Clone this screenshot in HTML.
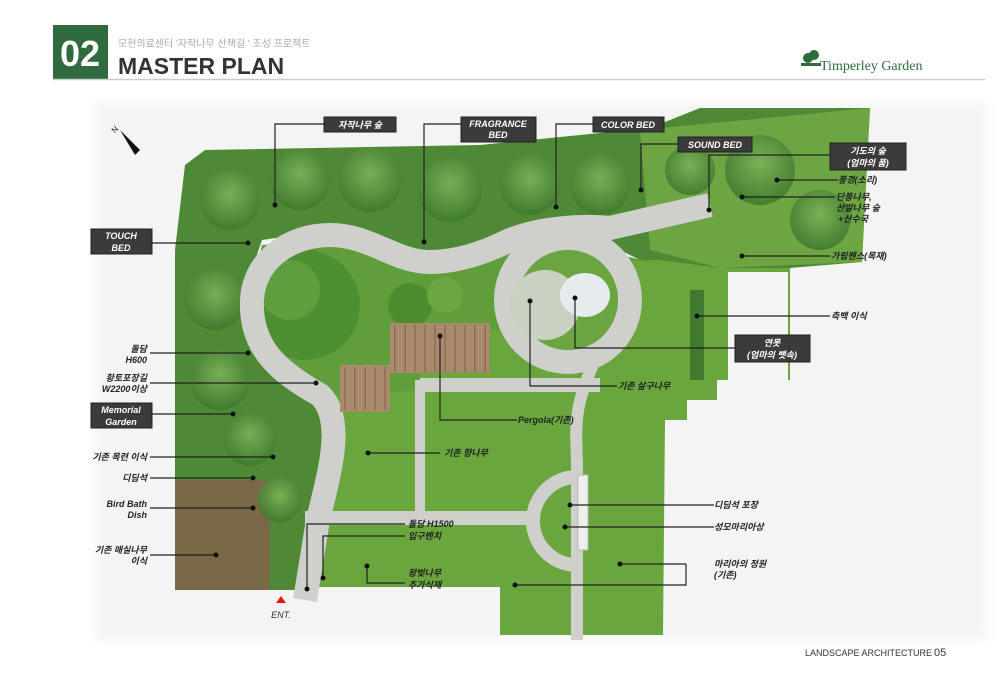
<!DOCTYPE html>
<html><head><meta charset="utf-8"><style>
html,body{margin:0;padding:0;background:#fff;}
body{width:1000px;height:680px;overflow:hidden;position:relative;font-family:"Liberation Sans","Noto Sans CJK KR",sans-serif;}
svg{position:absolute;left:0;top:0}
.lb{font-family:"Liberation Sans","Noto Sans CJK KR",sans-serif;font-size:9px;font-style:italic;font-weight:bold;fill:#222}
.bx{fill:#3b3b3b;stroke:#222;stroke-width:1}
.bt{font-family:"Liberation Sans","Noto Sans CJK KR",sans-serif;font-size:9px;font-style:italic;font-weight:bold;fill:#fff}
.ld{fill:none;stroke:#222;stroke-width:1.2}
</style></head><body>
<svg width="1000" height="680" viewBox="0 0 1000 680">
<defs>
<filter id="bl"><feGaussianBlur stdDeviation="6"/></filter>
<radialGradient id="tr" cx="50%" cy="40%" r="60%"><stop offset="0" stop-color="#7cb35a"/><stop offset="1" stop-color="#3f7a2e"/></radialGradient>
</defs>
<rect x="53" y="25" width="55" height="54" fill="#2f6b3e"/>
<text x="80" y="66" text-anchor="middle" font-size="36" font-weight="bold" fill="#fff" font-family="Liberation Sans,sans-serif">02</text>
<text x="118" y="47" font-size="10" fill="#aaa" font-family="Liberation Sans,Noto Sans CJK KR,sans-serif">모현의료센터 '자작나무 산책길 ' 조성 프로젝트</text>
<text x="118" y="74" font-size="23" font-weight="bold" fill="#333" font-family="Liberation Sans,sans-serif">MASTER PLAN</text>
<line x1="53" y1="79.5" x2="985" y2="79.5" stroke="#ccc" stroke-width="1.5"/>
<g fill="#2f6b3e"><circle cx="808" cy="58" r="5"/><circle cx="814" cy="55" r="5"/><rect x="801" y="63" width="20" height="3"/></g>
<text x="820" y="70" font-size="14" fill="#2f6b3e" font-family="Liberation Serif,serif">Timperley Garden</text>
<rect x="95" y="102" width="892" height="538" fill="#f3f4f3" filter="url(#bl)"/>
<path d="M185 165 L205 150 L480 145 L650 128 L700 108 L870 108 L862 262 L790 268 L700 272 L650 265 L620 250 L580 242 L470 252 L400 250 L330 230 L262 240 L245 290 L260 350 L300 385 L335 410 L335 470 L325 520 L315 590 L175 590 L175 250 Z" fill="#4e8a35"/>
<path d="M640 130 L870 108 L862 262 L720 268 L650 250 Z" fill="#7bb04a" opacity="0.7"/>
<rect x="175" y="480" width="95" height="110" fill="#8a5d4e" opacity="0.75"/>
<g fill="url(#tr)" opacity="0.9">
<circle cx="230" cy="200" r="30"/><circle cx="300" cy="180" r="30"/><circle cx="370" cy="180" r="32"/><circle cx="450" cy="190" r="32"/><circle cx="530" cy="185" r="30"/><circle cx="600" cy="185" r="30"/><circle cx="215" cy="300" r="30"/><circle cx="220" cy="380" r="30"/><circle cx="250" cy="440" r="26"/><circle cx="280" cy="500" r="22"/><circle cx="760" cy="170" r="35"/><circle cx="820" cy="220" r="30"/><circle cx="690" cy="170" r="25"/>
</g>
<path d="M262 245 L330 240 L400 258 L470 258 L580 245 L650 262 L700 270 L700 400 L420 398 L330 405 L300 385 L260 350 L250 290 Z" fill="#5f9e3a"/>
<path d="M330 395 L420 390 L420 330 L505 330 L520 255 L610 262 L660 260 L720 268 L790 268 L790 380 L717 380 L717 400 L687 400 L687 420 L665 420 L663 635 L500 635 L500 587 L305 587 L310 520 L320 470 Z" fill="#69a63d"/>
<rect x="728" y="272" width="60" height="110" fill="#f5f5f5"/>
<circle cx="305" cy="305" r="55" fill="#4f8f33"/>
<circle cx="290" cy="290" r="30" fill="#66a444" opacity="0.7"/>
<circle cx="410" cy="305" r="22" fill="#4e8c30"/><circle cx="445" cy="295" r="18" fill="#6ba640"/>
<g fill="none" stroke="#cfcfcc" stroke-linecap="butt">
<path d="M305 600 L318 520 C330 470 345 420 320 395 C275 370 250 345 252 300 C254 260 290 235 330 235 C370 235 395 262 430 262 C460 262 490 250 510 240 C540 228 580 225 610 228 L710 205" stroke-width="24"/>
<circle cx="568" cy="300" r="62" stroke-width="24"/>
<path d="M420 385 L600 385" stroke-width="14"/>
<path d="M420 380 L420 515" stroke-width="10"/>
<path d="M305 518 L540 518" stroke-width="14"/>
<path d="M600 350 C575 400 575 420 577 460 L577 640" stroke-width="12"/>
<path d="M577 477 A42 42 0 0 0 577 565" stroke-width="14"/>
</g>
<circle cx="568" cy="300" r="50" fill="#6aa53f"/>
<circle cx="545" cy="305" r="35" fill="#c9d2c2"/>
<ellipse cx="585" cy="295" rx="25" ry="22" fill="#e6ecee"/>
<rect x="390" y="323" width="100" height="50" fill="#a98a6c"/>
<rect x="340" y="365" width="50" height="47" fill="#a98a6c"/>
<g stroke="#7d6048" stroke-width="1"><path d="M395 325V372M405 325V372M415 325V372M425 325V372M435 325V372M445 325V372M455 325V372M465 325V372M475 325V372M485 325V372M345 367V410M355 367V410M365 367V410M375 367V410M385 367V410"/></g>
<rect x="578" y="475" width="10" height="75" fill="#eee" stroke="#bbb"/>
<rect x="690" y="290" width="14" height="90" fill="#3f7a2e"/>
<polygon points="120,130 140,150 135,155" fill="#111"/>
<text x="112" y="133" font-size="8" fill="#111" transform="rotate(-45 114 130)">N</text>
<polygon points="276,603 281,596 286,603" fill="#e11"/>
<text x="281" y="618" text-anchor="middle" font-size="9" font-style="italic" fill="#333">ENT.</text>
<g class="ld">
<path d="M324 124 H275 V205"/><path d="M461 124 H424 V242"/><path d="M593 124 H556 V207"/><path d="M678 144 H641 V190"/>
<path d="M830 155 H709 V210"/><path d="M838 180 H777"/><path d="M835 197 H742"/><path d="M830 256 H742"/><path d="M830 316 H697"/>
<path d="M735 348 H575 V298"/><path d="M617 386 H530 V301"/><path d="M517 420 H440 V336"/>
<path d="M152 243 H248"/><path d="M152 414 H233"/><path d="M150 353 H248"/><path d="M150 383 H316"/><path d="M150 457 H273"/><path d="M150 478 H253"/><path d="M150 508 H253"/><path d="M150 555 H216"/>
<path d="M440 453 H368"/><path d="M405 524 H307 V589"/><path d="M405 536 H323 V578"/><path d="M405 583 H367 V566"/>
<path d="M714 505 H570"/><path d="M714 527 H565"/><path d="M686 564 H620"/><path d="M686 564 V585 H515"/>
</g>
<g fill="#111">
<circle cx="275" cy="205" r="2.5"/><circle cx="424" cy="242" r="2.5"/><circle cx="556" cy="207" r="2.5"/><circle cx="641" cy="190" r="2.5"/><circle cx="709" cy="210" r="2.5"/><circle cx="777" cy="180" r="2.5"/><circle cx="742" cy="197" r="2.5"/><circle cx="742" cy="256" r="2.5"/><circle cx="697" cy="316" r="2.5"/><circle cx="575" cy="298" r="2.5"/><circle cx="530" cy="301" r="2.5"/><circle cx="440" cy="336" r="2.5"/><circle cx="248" cy="243" r="2.5"/><circle cx="233" cy="414" r="2.5"/><circle cx="248" cy="353" r="2.5"/><circle cx="316" cy="383" r="2.5"/><circle cx="273" cy="457" r="2.5"/><circle cx="253" cy="478" r="2.5"/><circle cx="253" cy="508" r="2.5"/><circle cx="216" cy="555" r="2.5"/><circle cx="368" cy="453" r="2.5"/><circle cx="307" cy="589" r="2.5"/><circle cx="323" cy="578" r="2.5"/><circle cx="367" cy="566" r="2.5"/><circle cx="570" cy="505" r="2.5"/><circle cx="565" cy="527" r="2.5"/><circle cx="620" cy="564" r="2.5"/><circle cx="515" cy="585" r="2.5"/>
</g>
<rect class="bx" x="324" y="117" width="72" height="15"/><text class="bt" x="360" y="128" text-anchor="middle">자작나무 숲</text>
<rect class="bx" x="461" y="117" width="75" height="25"/><text class="bt" x="498" y="127" text-anchor="middle">FRAGRANCE</text><text class="bt" x="498" y="138" text-anchor="middle">BED</text>
<rect class="bx" x="593" y="117" width="71" height="15"/><text class="bt" x="628" y="128" text-anchor="middle">COLOR BED</text>
<rect class="bx" x="678" y="137" width="74" height="15"/><text class="bt" x="715" y="148" text-anchor="middle">SOUND BED</text>
<rect class="bx" x="830" y="143" width="76" height="27"/><text class="bt" x="868" y="154" text-anchor="middle">기도의 숲</text><text class="bt" x="868" y="166" text-anchor="middle">(엄마의 품)</text>
<rect class="bx" x="91" y="229" width="61" height="25"/><text class="bt" x="121" y="239" text-anchor="middle">TOUCH</text><text class="bt" x="121" y="251" text-anchor="middle">BED</text>
<rect class="bx" x="91" y="403" width="61" height="25"/><text class="bt" x="121" y="413" text-anchor="middle">Memorial</text><text class="bt" x="121" y="425" text-anchor="middle">Garden</text>
<rect class="bx" x="735" y="335" width="75" height="27"/><text class="bt" x="772" y="346" text-anchor="middle">연못</text><text class="bt" x="772" y="358" text-anchor="middle">(엄마의 뱃속)</text>
<g class="lb">
<text x="147" y="352" text-anchor="end">돌담</text><text x="147" y="363" text-anchor="end">H600</text>
<text x="147" y="381" text-anchor="end">황토포장길</text><text x="147" y="392" text-anchor="end">W2200이상</text>
<text x="147" y="460" text-anchor="end">기존 목련 이식</text>
<text x="147" y="481" text-anchor="end">디딤석</text>
<text x="147" y="507" text-anchor="end">Bird Bath</text><text x="147" y="518" text-anchor="end">Dish</text>
<text x="147" y="553" text-anchor="end">기존 매실나무</text><text x="147" y="564" text-anchor="end">이식</text>
<text x="444" y="456">기존 향나무</text>
<text x="518" y="423">Pergola(기존)</text>
<text x="618" y="389">기존 살구나무</text>
<text x="408" y="527">돌담 H1500</text><text x="408" y="539">입구벤치</text>
<text x="408" y="576">왕벚나무</text><text x="408" y="588">추가식재</text>
<text x="838" y="183">풍경(소리)</text>
<text x="836" y="200">단풍나무,</text><text x="836" y="211">산딸나무 숲</text><text x="838" y="222">+산수국</text>
<text x="831" y="259">가림펜스(목재)</text>
<text x="831" y="319">측백 이식</text>
<text x="714" y="508">디딤석 포장</text><text x="714" y="530">성모마리아상</text>
<text x="714" y="567">마리아의 정원</text><text x="714" y="578">(기존)</text>
</g>
<text x="805" y="656" font-size="9" fill="#333">LANDSCAPE ARCHITECTURE</text>
<text x="934" y="656" font-size="11" fill="#333">05</text>
</svg>
</body></html>
